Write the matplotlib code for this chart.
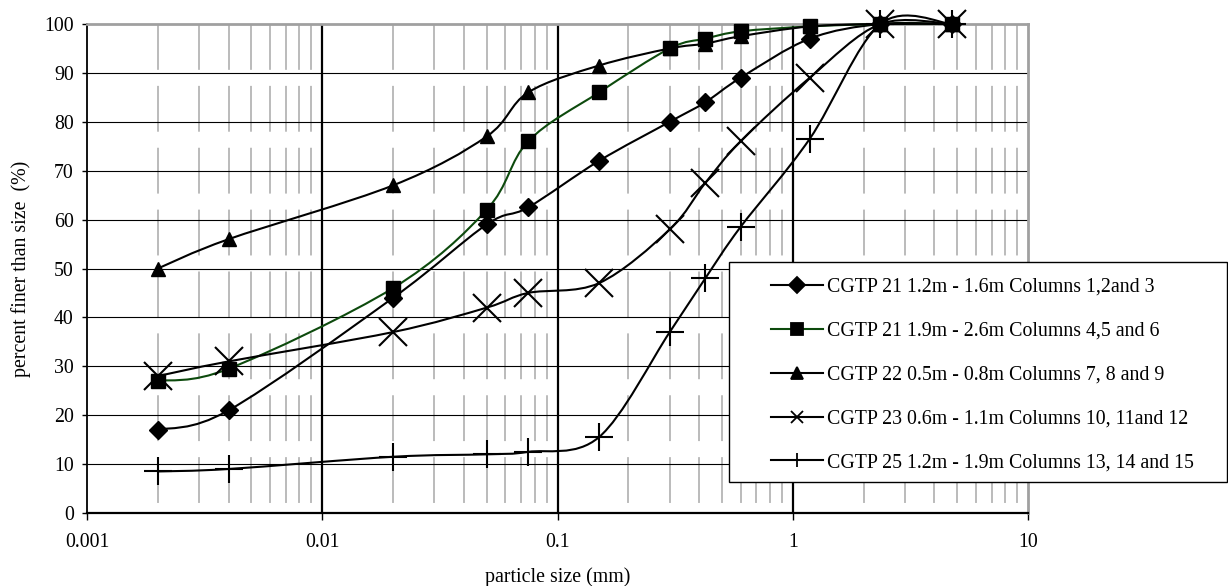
import numpy as np
import matplotlib
matplotlib.use('Agg')
import matplotlib.pyplot as plt
from matplotlib.path import Path
from matplotlib.patches import PathPatch, Rectangle
from matplotlib.lines import Line2D
from matplotlib.ticker import FixedLocator, NullLocator, FixedFormatter

plt.rcParams['font.family'] = ['Liberation Serif', 'DejaVu Serif']

# ---- data ----
sizes = [0.002, 0.004, 0.02, 0.05, 0.075, 0.15, 0.3, 0.425, 0.6, 1.18, 2.36, 4.75]
cgtp21_a = [17, 21, 44, 59, 62.5, 72, 80, 84, 89, 97, 100, 100]
cgtp21_b = [27, 29.5, 46, 62, 76, 86, 95, 97, 98.5, 99.5, 100, 100]
cgtp22 = [50, 56, 67, 77, 86, 91.5, 95, 96, 97.5, 99.5, 100, 100]
cgtp23 = [28, 31, 37, 42, 45, 47, 58, 67.5, 76, 89, 100, 100]
cgtp25 = [8.5, 9, 11.5, 12, 12.5, 15.5, 37, 48, 58.5, 76.5, 100, 100]
labels = ["CGTP 21 1.2m - 1.6m Columns 1,2and 3",
          "CGTP 21 1.9m - 2.6m Columns 4,5 and 6",
          "CGTP 22 0.5m - 0.8m Columns 7, 8 and 9",
          "CGTP 23 0.6m - 1.1m Columns 10, 11and 12",
          "CGTP 25 1.2m - 1.9m Columns 13, 14 and 15"]
x_ticks = [0.001, 0.01, 0.1, 1, 10]
x_ticklabels = ["0.001", "0.01", "0.1", "1", "10"]
y_ticks = [0, 10, 20, 30, 40, 50, 60, 70, 80, 90, 100]

series = [cgtp21_a, cgtp21_b, cgtp22, cgtp23, cgtp25]
line_colors = ['black', '#0d4a0d', 'black', 'black', 'black']
markers = ['D', 's', '^', 'x', '+']
msizes = [9, 9.5, 10, 20, 20]
mews = [1, 1, 1, 1.5, 1.5]
leg_msizes = [8, 8.5, 9, 9, 10]

FS = 14.3


def smooth_path(x, y):
    P = np.column_stack([np.log10(x), np.asarray(y, float)])
    n = len(P)
    verts = [P[0]]
    codes = [Path.MOVETO]
    for i in range(n - 1):
        p0 = P[i - 1] if i > 0 else P[i]
        p1 = P[i]
        p2 = P[i + 1]
        p3 = P[i + 2] if i + 2 < n else P[i + 1]
        c1 = p1 + (p2 - p0) / 6.0
        c2 = p2 - (p3 - p1) / 6.0
        verts += [c1, c2, p2]
        codes += [Path.CURVE4] * 3
    V = np.array(verts)
    V[:, 0] = 10 ** V[:, 0]
    return Path(V, codes)


W, H = 1228, 586
fig = plt.figure(figsize=(W / 100, H / 100), dpi=100)
ax = fig.add_axes([87 / W, 1 - 513 / H, (1028 - 87) / W, (513 - 24) / H])
ax.set_xscale('log')
ax.set_xlim(0.001, 10)
ax.set_ylim(0, 100)

# grid
minor = [k * 10.0 ** d for d in range(-3, 1) for k in range(2, 10)]
ax.vlines(minor, 100, 0, colors='#a8a8a8', lw=1.1,
          linestyles=[(0, (30.0, 10.5))], zorder=1)
ax.hlines(range(10, 100, 10), 0.001, 10, colors='black', lw=0.8, zorder=1.5)
ax.vlines([0.01, 0.1, 1], 0, 100, colors='black', lw=1.6, zorder=1.6)

# series
for ys, c, m, ms, mew in zip(series, line_colors, markers, msizes, mews):
    patch = PathPatch(smooth_path(sizes, ys), facecolor='none', edgecolor=c,
                      lw=1.5, transform=ax.transData, clip_on=False, zorder=3)
    ax.add_patch(patch)
    ax.plot(sizes, ys, linestyle='none', marker=m, markersize=ms, color='black',
            markeredgewidth=mew, clip_on=False, zorder=4)

# axes styling
for s in ['top', 'right']:
    ax.spines[s].set_color('#a0a0a0')
    ax.spines[s].set_linewidth(2)
ax.spines['left'].set_linewidth(1.3)
ax.spines['bottom'].set_linewidth(1.6)
ax.xaxis.set_major_locator(FixedLocator(x_ticks))
ax.xaxis.set_major_formatter(FixedFormatter(x_ticklabels))
ax.xaxis.set_minor_locator(NullLocator())
ax.set_yticks(y_ticks)
ax.tick_params(axis='x', direction='out', length=5, width=1, pad=9.5, labelsize=FS)
ax.tick_params(axis='y', direction='out', length=3.6, width=1, pad=6, labelsize=FS)
ax.set_xlabel('particle size (mm)', fontsize=FS)
ax.set_ylabel('percent finer than size  (%)', fontsize=FS)
ax.xaxis.set_label_coords(0.5, -0.11)
ax.yaxis.set_label_coords(-0.059, 0.5)

# legend
fig.patches.append(Rectangle((729 / W, 1 - 482 / H), (1227 - 729) / W, (482 - 262) / H,
                             transform=fig.transFigure, facecolor='white',
                             edgecolor='black', lw=1, zorder=10))
handles = [Line2D([], [], color=c, lw=1.5, marker=m, markersize=lm, markeredgecolor='black',
                  markerfacecolor='black', markeredgewidth=1.3)
           for c, m, lm in zip(line_colors, markers, leg_msizes)]
leg = fig.legend(handles, labels, loc='upper left',
                 bbox_to_anchor=(771 / W, 1 - 278 / H), bbox_transform=fig.transFigure,
                 frameon=False, fontsize=FS, handlelength=2.6, handletextpad=0.2,
                 labelspacing=1.25, borderpad=0, borderaxespad=0)
leg.set_zorder(11)

fig.savefig('out.png', dpi=100)
